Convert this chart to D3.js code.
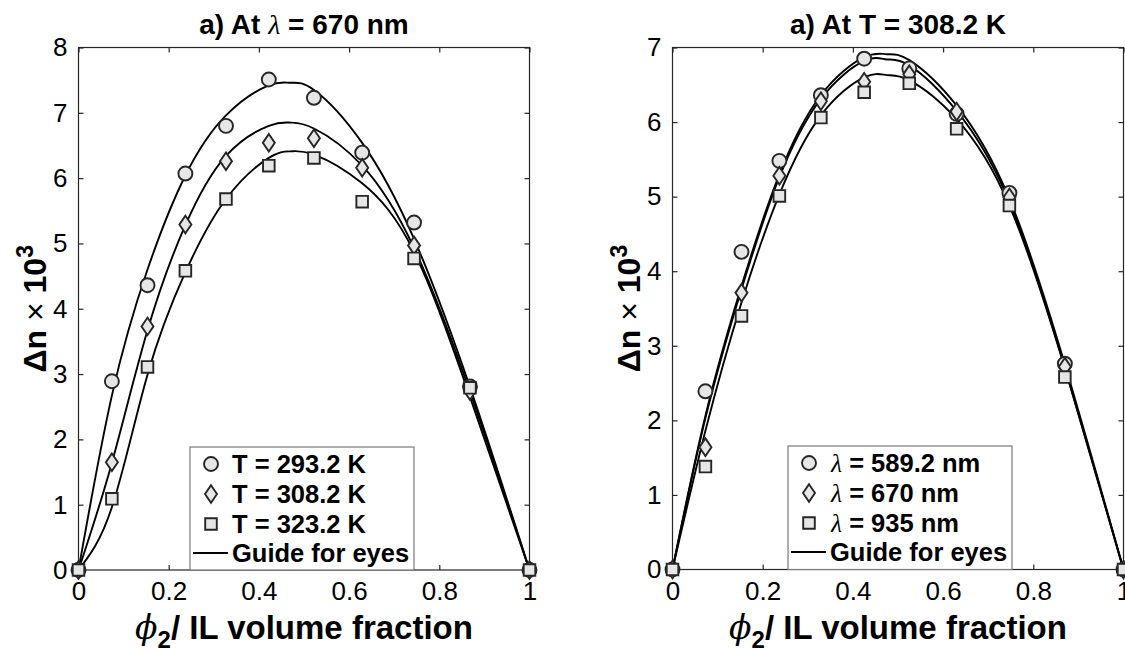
<!DOCTYPE html>
<html>
<head>
<meta charset="utf-8">
<script src="https://cdn.jsdelivr.net/npm/d3@7"></script>
<style>
  body { margin: 0; background: #fff; }
  svg { display: block; }
  text { font-family: "Liberation Sans", Arial, sans-serif; fill: #000; }
</style>
</head>
<body>
<div id="chart"></div>
<script>
var phiLeft  = [0, 0.074, 0.153, 0.237, 0.327, 0.422, 0.522, 0.629, 0.744, 0.868, 1];
var dnT293   = [0, 2.89, 4.36, 6.07, 6.80, 7.51, 7.23, 6.39, 5.32, 2.81, 0];
var dnT308   = [0, 1.65, 3.73, 5.29, 6.26, 6.54, 6.61, 6.16, 4.97, 2.74, 0];
var dnT323   = [0, 1.09, 3.11, 4.58, 5.68, 6.19, 6.31, 5.64, 4.77, 2.79, 0];

var phiRight = [0, 0.073, 0.153, 0.237, 0.329, 0.425, 0.525, 0.630, 0.747, 0.870, 1];
var dnL589   = [0, 2.39, 4.26, 5.48, 6.36, 6.85, 6.72, 6.11, 5.05, 2.76, 0];
var dnL670   = [0, 1.64, 3.71, 5.28, 6.28, 6.54, 6.64, 6.14, 4.99, 2.72, 0];
var dnL935   = [0, 1.38, 3.40, 5.01, 6.06, 6.40, 6.52, 5.91, 4.88, 2.58, 0];

// guide-for-eyes curves
var guidePhiLeft  = [0, 0.074, 0.153, 0.237, 0.327, 0.422, 0.47, 0.522, 0.629, 0.744, 0.868, 1];
var guideT293     = [0, 2.67, 4.60, 6.04, 6.96, 7.42, 7.46, 7.35, 6.54, 5.07, 2.80, 0];
var guideT308     = [0, 1.64, 3.67, 5.28, 6.34, 6.80, 6.85, 6.76, 6.19, 4.93, 2.73, 0];
var guideT323     = [0, 0.96, 2.99, 4.56, 5.68, 6.31, 6.41, 6.36, 5.92, 4.87, 2.65, 0];

var guidePhiRight = [0, 0.073, 0.153, 0.237, 0.329, 0.425, 0.475, 0.525, 0.630, 0.747, 0.870, 1];
var guideL589     = [0, 2.06, 3.80, 5.30, 6.36, 6.87, 6.91, 6.83, 6.22, 4.97, 2.75, 0];
var guideL670     = [0, 2.03, 3.76, 5.26, 6.31, 6.82, 6.84, 6.76, 6.15, 4.93, 2.71, 0];
var guideL935     = [0, 1.86, 3.58, 5.03, 6.09, 6.60, 6.63, 6.56, 6.04, 4.88, 2.70, 0];

var xTicks = [0, 0.2, 0.4, 0.6, 0.8, 1];
var xTickLabels = ["0", "0.2", "0.4", "0.6", "0.8", "1"];
var yTicksLeft = [0, 1, 2, 3, 4, 5, 6, 7, 8];
var yTicksRight = [0, 1, 2, 3, 4, 5, 6, 7];

var legendLeft = ["T = 293.2 K", "T = 308.2 K", "T = 323.2 K"];
var legendRight = ["589.2 nm", "670 nm", "935 nm"];
var markerShapes = ["circle", "diamond", "square"];

var svgWidth = 1125;
var svgHeight = 649;

var svg = d3.select("#chart")
  .append("svg")
  .attr("width", svgWidth)
  .attr("height", svgHeight);

var axisColor = "#262626";

function markerPath(shape) {
  if (shape == "circle") return "M7,0A7,7 0 1,1 -7,0A7,7 0 1,1 7,0Z";
  if (shape == "square") return "M-5.8,-5.8H5.8V5.8H-5.8Z";
  return "M0,-8.8L6,0L0,8.8L-6,0Z";
}

function drawPanel(p) {
  var x = d3.scaleLinear().domain([0, 1]).range([p.left, p.right]);
  var y = d3.scaleLinear().domain([0, p.yMax]).range([p.bottom, p.top]);
  var g = svg.append("g");

  // frame
  g.append("rect")
    .attr("x", p.left).attr("y", p.top)
    .attr("width", p.right - p.left).attr("height", p.bottom - p.top)
    .attr("fill", "none").attr("stroke", axisColor).attr("stroke-width", 1.2);

  // axes with inward ticks on all sides
  var bottomAxis = d3.axisBottom(x).tickValues(xTicks).tickSizeInner(-5).tickSizeOuter(0)
    .tickPadding(12).tickFormat(function(d, i) { return xTickLabels[i]; });
  var topAxis = d3.axisTop(x).tickValues(xTicks).tickSizeInner(-5).tickSizeOuter(0).tickFormat("");
  var leftAxis = d3.axisLeft(y).tickValues(p.yTicks).tickSizeInner(-5).tickSizeOuter(0)
    .tickPadding(11).tickFormat(d3.format("d"));
  var rightAxis = d3.axisRight(y).tickValues(p.yTicks).tickSizeInner(-5).tickSizeOuter(0).tickFormat("");

  var axes = [
    g.append("g").attr("transform", `translate(0, ${p.bottom})`).call(bottomAxis),
    g.append("g").attr("transform", `translate(0, ${p.top})`).call(topAxis),
    g.append("g").attr("transform", `translate(${p.left}, 0)`).call(leftAxis),
    g.append("g").attr("transform", `translate(${p.right}, 0)`).call(rightAxis)
  ];
  axes.forEach(function(a) {
    a.select(".domain").remove();
    a.selectAll("line").attr("stroke", axisColor).attr("stroke-width", 1.2);
    a.selectAll("text").attr("font-size", 26).attr("fill", "#000")
      .style("font-family", "'Liberation Sans', Arial, sans-serif");
  });

  // guide curves
  var line = d3.line()
    .x(function(d) { return x(d[0]); })
    .y(function(d) { return y(d[1]); })
    .curve(d3.curveNatural);

  p.guides.forEach(function(vals) {
    g.append("path")
      .datum(d3.zip(p.guidePhi, vals))
      .attr("d", line)
      .attr("fill", "none")
      .attr("stroke", "#000")
      .attr("stroke-width", 1.9);
  });

  // markers
  p.series.forEach(function(vals, i) {
    g.selectAll(".m" + i)
      .data(d3.zip(p.phi, vals))
      .enter()
      .append("path")
      .attr("class", "m" + i)
      .attr("transform", function(d) { return `translate(${x(d[0])}, ${y(d[1])})`; })
      .attr("d", markerPath(markerShapes[i]))
      .attr("fill", "#e6e6e6")
      .attr("stroke", axisColor)
      .attr("stroke-width", 1.9);
  });

  // title
  var cx = (p.left + p.right) / 2;
  var title = g.append("text")
    .attr("x", cx).attr("y", 34)
    .attr("text-anchor", "middle")
    .attr("font-size", 28).attr("font-weight", "bold");
  p.title(title);

  // x label
  var xl = g.append("text")
    .attr("x", cx).attr("y", 639)
    .attr("text-anchor", "middle")
    .attr("font-size", 33).attr("font-weight", "bold");
  xl.append("tspan").text("\u03d5")
    .style("font-family", "'DejaVu Serif', serif")
    .attr("font-style", "italic").attr("font-weight", "normal");
  xl.append("tspan").text("2").attr("font-size", 24).attr("dy", 9);
  xl.append("tspan").text("/ IL volume fraction").attr("dy", -9);

  // y label
  var yl = g.append("text")
    .attr("transform", `translate(${p.yLabelX}, ${(p.top + p.bottom) / 2}) rotate(-90)`)
    .attr("text-anchor", "middle")
    .attr("font-size", 32).attr("font-weight", "bold");
  yl.append("tspan").text("\u0394n ");
  yl.append("tspan").text("\u00d7").attr("font-weight", "normal");
  yl.append("tspan").text(" 10");
  yl.append("tspan").text("3").attr("font-size", 23).attr("dy", -13);

  // legend
  var lg = g.append("g");
  lg.append("rect")
    .attr("x", p.legend.x).attr("y", p.legend.y)
    .attr("width", p.legend.w).attr("height", p.bottom - p.legend.y)
    .attr("fill", "#fff").attr("stroke", "#7a7a7a").attr("stroke-width", 1.2);
  var rowY = [17, 47, 77, 106];
  p.labels.forEach(function(lab, i) {
    lg.append("path")
      .attr("transform", `translate(${p.legend.x + 21}, ${p.legend.y + rowY[i]})`)
      .attr("d", markerPath(markerShapes[i]))
      .attr("fill", "#e6e6e6").attr("stroke", axisColor).attr("stroke-width", 1.9);
    var t = lg.append("text")
      .attr("x", p.legend.x + p.legend.textX).attr("y", p.legend.y + rowY[i])
      .attr("dy", "0.36em")
      .attr("font-size", 25.5).attr("font-weight", "bold");
    p.legendText(t, lab);
  });
  lg.append("line")
    .attr("x1", p.legend.x + 3).attr("x2", p.legend.x + 38)
    .attr("y1", p.legend.y + rowY[3]).attr("y2", p.legend.y + rowY[3])
    .attr("stroke", "#000").attr("stroke-width", 1.9);
  lg.append("text")
    .attr("x", p.legend.x + 42).attr("y", p.legend.y + rowY[3])
    .attr("dy", "0.36em")
    .attr("font-size", 25.5).attr("font-weight", "bold")
    .text("Guide for eyes");
}

function lambda(sel) {
  sel.append("tspan").text("\u03bb")
    .style("font-family", "'Liberation Serif', serif")
    .attr("font-style", "italic").attr("font-weight", "normal");
}

drawPanel({
  left: 78.5, right: 529.5, top: 47.5, bottom: 570,
  yMax: 8, yTicks: yTicksLeft, yLabelX: 46,
  phi: phiLeft, series: [dnT293, dnT308, dnT323],
  guidePhi: guidePhiLeft, guides: [guideT293, guideT308, guideT323],
  labels: legendLeft,
  legend: { x: 190, y: 447, w: 224, textX: 42 },
  title: function(t) {
    t.append("tspan").text("a) At ");
    lambda(t);
    t.append("tspan").text(" = 670 nm");
  },
  legendText: function(t, lab) { t.text(lab); }
});

drawPanel({
  left: 672.5, right: 1123.5, top: 47.5, bottom: 569.5,
  yMax: 7, yTicks: yTicksRight, yLabelX: 640,
  phi: phiRight, series: [dnL589, dnL670, dnL935],
  guidePhi: guidePhiRight, guides: [guideL589, guideL670, guideL935],
  labels: legendRight,
  legend: { x: 788, y: 446, w: 224, textX: 43 },
  title: function(t) { t.text("a) At T = 308.2 K"); },
  legendText: function(t, lab) {
    lambda(t);
    t.append("tspan").text(" = " + lab);
  }
});
</script>
</body>
</html>
